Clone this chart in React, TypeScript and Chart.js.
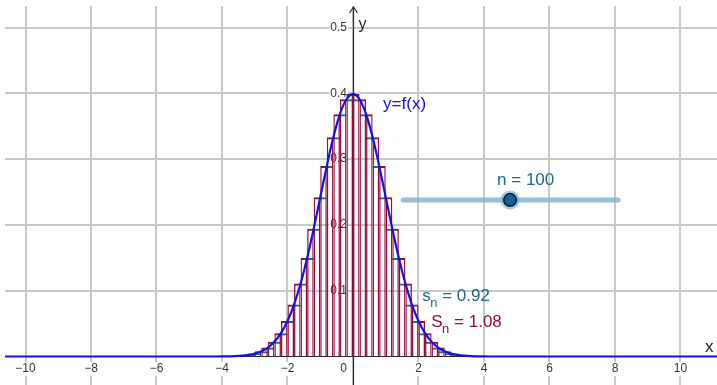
import { useEffect, useRef } from "react";
import { Chart, registerables } from "chart.js";

Chart.register(...registerables);

// Interval [X_START, X_END] split into N equal strips
const X_START = -10;
const X_END = 10;
const N = 100;

// f(x) at the 101 strip edges x = -10, -9.8, ..., 10
const F_EDGES = [
  // -10 .. -4.2
  0, 0, 0, 0, 0, 0, 0, 0, 0, 0,
  0, 0, 0, 0, 0, 0, 0, 0, 0, 0,
  0, 0, 0, 0, 0, 0, 0, 0, 0, 0,
  // -4.0 .. -0.2
  0.0001, 0.0003, 0.0006, 0.0012, 0.0024, 0.0044, 0.0079, 0.0136, 0.0224, 0.0355,
  0.054, 0.079, 0.1109, 0.1497, 0.1942, 0.242, 0.2897, 0.3332, 0.3683, 0.391,
  // 0
  0.3989,
  // 0.2 .. 4.0
  0.391, 0.3683, 0.3332, 0.2897, 0.242, 0.1942, 0.1497, 0.1109, 0.079, 0.054,
  0.0355, 0.0224, 0.0136, 0.0079, 0.0044, 0.0024, 0.0012, 0.0006, 0.0003, 0.0001,
  // 4.2 .. 10
  0, 0, 0, 0, 0, 0, 0, 0, 0, 0,
  0, 0, 0, 0, 0, 0, 0, 0, 0, 0,
  0, 0, 0, 0, 0, 0, 0, 0, 0, 0,
];

// the curve keeps running flat beyond the interval
const TAIL_X = [-11, 11.5];
const TAIL_Y = [0, 0];

const X_TICKS = [-10, -8, -6, -4, -2, 0, 2, 4, 6, 8, 10];
const Y_TICKS = [0.1, 0.2, 0.3, 0.4, 0.5];

// visible window of the graphics view
const VIEW_X = [-10.626, 11.115];
const VIEW_Y = [-0.0433, 0.5327];

// slider for n
const SLIDER_MIN = 1;
const SLIDER_MAX = 200;
const SLIDER_AT = { x: 1.53, y: 0.238 };
const SLIDER_LENGTH = 215;

// text anchors (graph coordinates, alphabetic baseline)
const CURVE_LABEL_AT = { x: 0.92, y: 0.3765 };
const LOWER_LABEL_AT = { x: 2.115, y: 0.0845 };
const UPPER_LABEL_AT = { x: 2.39, y: 0.0445 };

const BLUE = "rgb(18,18,228)";
const CRIMSON = "rgb(150,10,60)";
const TEAL = "rgb(30,104,140)";
const GRID = "rgb(200,200,200)";
const AXIS = "rgb(40,40,40)";
const FONT = "'Liberation Sans', Arial, sans-serif";

const minus = (v: number) => (v < 0 ? "\u2212" + String(-v) : String(v));

export default function App() {
  const canvasRef = useRef<HTMLCanvasElement | null>(null);

  useEffect(() => {
    const canvas = canvasRef.current;
    if (!canvas) return;

    const h = (X_END - X_START) / N;
    const edges = F_EDGES.map((v, i) => ({ x: X_START + i * h, y: v }));
    const upper: { x: number; y: number }[] = [];
    const lower: { x: number; y: number }[] = [];
    for (let i = 0; i < N; i++) {
      const cx = X_START + (i + 0.5) * h;
      upper.push({ x: cx, y: Math.max(F_EDGES[i], F_EDGES[i + 1]) });
      lower.push({ x: cx, y: Math.min(F_EDGES[i], F_EDGES[i + 1]) });
    }
    const upperSum = upper.reduce((s, p) => s + p.y * h, 0);
    const lowerSum = lower.reduce((s, p) => s + p.y * h, 0);

    const curve = [
      { x: TAIL_X[0], y: TAIL_Y[0] },
      ...edges,
      { x: TAIL_X[1], y: TAIL_Y[1] },
    ];

    const backdrop = {
      id: "backdrop",
      beforeDatasetsDraw(chart: any) {
        const { ctx, chartArea: a, scales } = chart;
        const xs = scales.x;
        const ys = scales.y;
        const x0 = Math.round(xs.getPixelForValue(0)) + 0.5;
        const y0 = ys.getPixelForValue(0);
        ctx.save();
        // grid
        ctx.strokeStyle = GRID;
        ctx.lineWidth = 2;
        for (const v of X_TICKS) {
          const px = Math.round(xs.getPixelForValue(v));
          ctx.beginPath();
          ctx.moveTo(px, a.top);
          ctx.lineTo(px, a.bottom);
          ctx.stroke();
        }
        for (const v of Y_TICKS) {
          const py = Math.round(ys.getPixelForValue(v));
          ctx.beginPath();
          ctx.moveTo(a.left, py);
          ctx.lineTo(a.right, py);
          ctx.stroke();
        }
        // axes
        ctx.strokeStyle = AXIS;
        ctx.lineWidth = 1.2;
        ctx.beginPath();
        ctx.moveTo(a.left, y0);
        ctx.lineTo(a.right, y0);
        ctx.stroke();
        ctx.beginPath();
        ctx.moveTo(x0, a.top + 1);
        ctx.lineTo(x0, a.bottom);
        ctx.stroke();
        ctx.beginPath();
        ctx.moveTo(x0 - 4, a.top + 7);
        ctx.lineTo(x0, a.top + 1);
        ctx.lineTo(x0 + 4, a.top + 7);
        ctx.stroke();

        // tick labels
        ctx.font = `12px ${FONT}`;
        ctx.textBaseline = "middle";
        for (const v of X_TICKS) {
          const t = minus(v);
          const w = ctx.measureText(t).width;
          const cy = y0 + 12.5;
          if (v === 0) {
            const rx = x0 - 6.5;
            ctx.fillStyle = "#fff";
            ctx.fillRect(rx - w - 1, cy - 7, w + 2, 14);
            ctx.fillStyle = "#333";
            ctx.textAlign = "right";
            ctx.fillText(t, rx, cy);
          } else {
            const px = xs.getPixelForValue(v);
            ctx.fillStyle = "#fff";
            ctx.fillRect(px - w / 2 - 1, cy - 7, w + 2, 14);
            ctx.fillStyle = "#333";
            ctx.textAlign = "center";
            ctx.fillText(t, px, cy);
          }
        }
        for (const v of Y_TICKS) {
          const t = v.toFixed(1);
          const w = ctx.measureText(t).width;
          const py = ys.getPixelForValue(v);
          const rx = x0 - 6.5;
          ctx.fillStyle = "#fff";
          ctx.fillRect(rx - w - 1, py - 7, w + 2, 14);
          ctx.fillStyle = "#333";
          ctx.textAlign = "right";
          ctx.fillText(t, rx, py);
        }

        // axis names
        ctx.fillStyle = "#222";
        ctx.textAlign = "left";
        ctx.textBaseline = "alphabetic";
        ctx.font = `16px ${FONT}`;
        ctx.fillText("y", x0 + 5, a.top + 22.5);
        ctx.font = `17px ${FONT}`;
        ctx.fillText("x", a.right - 12, y0 - 4.5);
        ctx.restore();
      },
      afterDatasetsDraw(chart: any) {
        const { ctx, scales } = chart;
        const xs = scales.x;
        const ys = scales.y;
        ctx.save();
        ctx.textBaseline = "alphabetic";
        ctx.textAlign = "left";

        // curve name
        ctx.font = `17px ${FONT}`;
        ctx.fillStyle = BLUE;
        ctx.fillText(
          "y=f(x)",
          xs.getPixelForValue(CURVE_LABEL_AT.x),
          ys.getPixelForValue(CURVE_LABEL_AT.y)
        );

        // sums, written as letter + subscript n
        const sumLabel = (
          base: string,
          value: number,
          at: { x: number; y: number },
          color: string
        ) => {
          let px = xs.getPixelForValue(at.x);
          const py = ys.getPixelForValue(at.y);
          ctx.fillStyle = color;
          ctx.font = `17px ${FONT}`;
          ctx.fillText(base, px, py);
          px += ctx.measureText(base).width - 0.5;
          ctx.font = `13px ${FONT}`;
          ctx.fillText("n", px, py + 6);
          px += ctx.measureText("n").width;
          ctx.font = `17px ${FONT}`;
          ctx.fillText(" = " + value.toFixed(2), px, py);
        };
        sumLabel("s", lowerSum, LOWER_LABEL_AT, TEAL);
        sumLabel("S", upperSum, UPPER_LABEL_AT, CRIMSON);

        // slider
        const sx0 = xs.getPixelForValue(SLIDER_AT.x);
        const sy = ys.getPixelForValue(SLIDER_AT.y);
        ctx.lineCap = "round";
        ctx.lineWidth = 5;
        ctx.strokeStyle = "rgba(125,175,205,0.8)";
        ctx.beginPath();
        ctx.moveTo(sx0, sy);
        ctx.lineTo(sx0 + SLIDER_LENGTH, sy);
        ctx.stroke();
        const kx = sx0 + ((N - SLIDER_MIN) / (SLIDER_MAX - SLIDER_MIN)) * SLIDER_LENGTH;
        ctx.fillStyle = "rgba(110,165,200,0.6)";
        ctx.beginPath();
        ctx.arc(kx, sy, 9.5, 0, Math.PI * 2);
        ctx.fill();
        ctx.fillStyle = "rgb(12,96,150)";
        ctx.strokeStyle = "rgb(10,30,45)";
        ctx.lineWidth = 1.5;
        ctx.beginPath();
        ctx.arc(kx, sy, 6.3, 0, Math.PI * 2);
        ctx.fill();
        ctx.stroke();
        ctx.font = `17px ${FONT}`;
        ctx.fillStyle = TEAL;
        ctx.fillText("n = " + N, kx - 13, sy - 15);
        ctx.restore();
      },
    };

    const chart = new Chart(canvas, {
      type: "bar",
      data: {
        datasets: [
          {
            type: "line",
            label: "f",
            data: curve,
            order: 0,
            borderColor: BLUE,
            borderWidth: 2.2,
            pointRadius: 0,
            fill: false,
            cubicInterpolationMode: "monotone",
          } as any,
          {
            type: "bar",
            label: "upper",
            data: upper,
            order: 1,
            backgroundColor: "rgba(0,0,0,0)",
            borderColor: CRIMSON,
            borderWidth: { top: 2, left: 1.3, right: 1.3, bottom: 0 },
            borderSkipped: false,
            inflateAmount: 0,
            barPercentage: 1,
            categoryPercentage: 1,
            grouped: false,
          } as any,
          {
            type: "bar",
            label: "lower",
            data: lower,
            order: 2,
            backgroundColor: "rgba(0,0,0,0)",
            borderColor: TEAL,
            borderWidth: { top: 2, left: 0, right: 0, bottom: 0 },
            borderSkipped: false,
            inflateAmount: 0,
            barPercentage: 1,
            categoryPercentage: 1,
            grouped: false,
          } as any,
        ],
      },
      options: {
        animation: false,
        responsive: false,
        events: [],
        layout: { padding: { left: 5, top: 6, right: 0, bottom: 0 } },
        plugins: { legend: { display: false }, tooltip: { enabled: false } },
        scales: {
          x: {
            type: "linear",
            min: VIEW_X[0],
            max: VIEW_X[1],
            bounds: "data",
            offset: false,
            display: false,
            ticks: { stepSize: 2 },
          },
          y: {
            type: "linear",
            min: VIEW_Y[0],
            max: VIEW_Y[1],
            bounds: "data",
            display: false,
            ticks: { stepSize: 0.1 },
          },
        },
      } as any,
      plugins: [backdrop],
    });

    return () => chart.destroy();
  }, []);

  return (
    <div style={{ position: "fixed", left: 0, top: 0, width: 717, height: 385, background: "#fff" }}>
      <canvas ref={canvasRef} width={717} height={385} style={{ display: "block" }} />
    </div>
  );
}
